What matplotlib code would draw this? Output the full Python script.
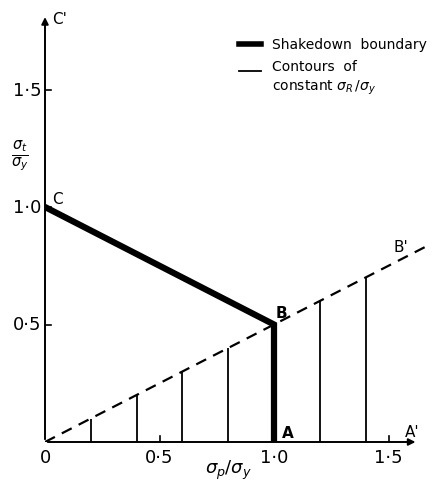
import matplotlib.pyplot as plt
import numpy as np

# shakedown boundary C -> B -> A
boundary_x = [0.0, 1.0, 1.0]
boundary_y = [1.0, 0.5, 0.0]

# dashed line O -> B'
dash_x = [0.0, 1.66]
dash_y = [0.0, 0.83]

# contours of constant sigma_R / sigma_y (vertical lines up to dashed line)
contour_x = [0.2, 0.4, 0.6, 0.8, 1.2, 1.4]
contour_top = [0.1, 0.2, 0.3, 0.4, 0.6, 0.7]

xticks = [0.0, 0.5, 1.0, 1.5]
xticklabels = ['0', '0·5', '1·0', '1·5']
yticks = [0.5, 1.0, 1.5]
yticklabels = ['0·5', '1·0', '1·5']

W, H = 440, 481
x0_px, y0_px = 45, 443
sx, sy = 229, 235
xmax, ymax = 1.72, 1.86

fig = plt.figure(figsize=(W / 100, H / 100), dpi=100)
ax = fig.add_axes([x0_px / W, (H - y0_px) / H, xmax * sx / W, ymax * sy / H])
ax.set_xlim(0, xmax)
ax.set_ylim(0, ymax)
for s in ax.spines.values():
    s.set_visible(False)
ax.set_xticks([])
ax.set_yticks([])
ax.patch.set_alpha(0)

# axes with arrows
ax.annotate('', xy=(1.63, 0), xytext=(0, 0),
            arrowprops=dict(arrowstyle='-|>', lw=1.4, color='black', mutation_scale=10))
ax.annotate('', xy=(0, 1.82), xytext=(0, 0),
            arrowprops=dict(arrowstyle='-|>', lw=1.4, color='black', mutation_scale=10))

# ticks (inward)
for t in xticks[1:]:
    ax.plot([t, t], [0, 0.025], color='black', lw=1.2)
for t in yticks:
    ax.plot([0, 0.025], [t, t], color='black', lw=1.2)

tick_fs = 13
for t, lab in zip(xticks, xticklabels):
    ax.text(t, -0.025, lab, ha='center', va='top', fontsize=tick_fs)
for t, lab in zip(yticks, yticklabels):
    ax.text(-0.015, t, lab, ha='right', va='center', fontsize=tick_fs)

ax.plot(dash_x, dash_y, color='black', lw=1.6, ls=(0, (5, 3.5)))
ax.vlines(contour_x, 0, contour_top, color='black', lw=1.3)
ax.plot(boundary_x, boundary_y, color='black', lw=4.5, solid_joinstyle='miter')

lab_fs = 11
ax.text(0.03, 1.80, "C'", fontsize=lab_fs, ha='left', va='center')
ax.text(0.03, 1.035, 'C', fontsize=lab_fs, ha='left', va='center')
ax.text(1.005, 0.55, 'B', fontsize=lab_fs, ha='left', va='center', fontweight='bold')
ax.text(1.035, 0.04, 'A', fontsize=lab_fs, ha='left', va='center', fontweight='bold')
ax.text(1.57, 0.045, "A'", fontsize=lab_fs, ha='left', va='center')
ax.text(1.52, 0.83, "B'", fontsize=lab_fs, ha='left', va='center')

# axis labels
ax.text(-0.11, 1.22, r'$\frac{\sigma_t}{\sigma_y}$', fontsize=15, ha='center', va='center')
ax.text(0.8, -0.118, r'$\sigma_p/\sigma_y$', fontsize=13, ha='center', va='center',
        fontweight='bold')

# legend
leg_fs = 10
ax.plot([0.845, 0.945], [1.695, 1.695], color='black', lw=4)
ax.text(0.99, 1.695, 'Shakedown  boundary', fontsize=leg_fs, va='center', ha='left')
ax.plot([0.845, 0.945], [1.58, 1.58], color='black', lw=1.3)
ax.text(0.99, 1.6, 'Contours  of', fontsize=leg_fs, va='center', ha='left')
ax.text(0.99, 1.51, r'constant $\sigma_R\,/\sigma_y$', fontsize=leg_fs, va='center', ha='left')

fig.savefig('out.png', dpi=100)
